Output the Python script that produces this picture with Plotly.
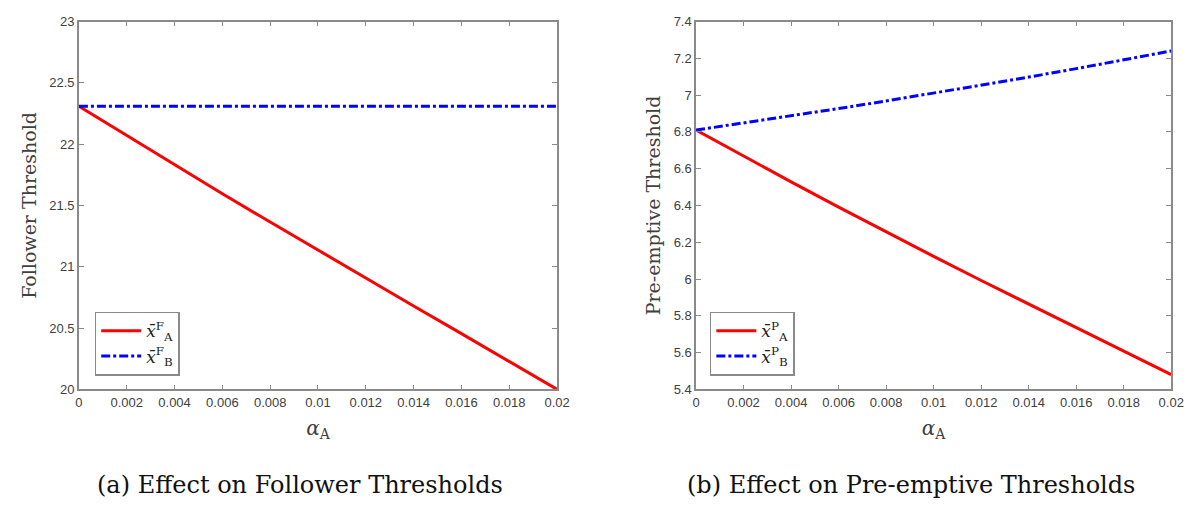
import plotly.graph_objects as go

alpha = [0, 0.002, 0.004, 0.006, 0.008, 0.01, 0.012, 0.014, 0.016, 0.018, 0.02]
follower_A = [22.31, 22.07, 21.83, 21.595, 21.365, 21.135, 20.905, 20.68, 20.455, 20.23, 20.00]
follower_B = [22.31, 22.31, 22.31, 22.31, 22.31, 22.31, 22.31, 22.31, 22.31, 22.31, 22.31]
preempt_A = [6.81, 6.668, 6.528, 6.391, 6.256, 6.123, 5.992, 5.863, 5.735, 5.607, 5.48]
preempt_B = [6.81, 6.848, 6.887, 6.927, 6.968, 7.010, 7.053, 7.098, 7.144, 7.191, 7.24]

xticks = [0, 0.002, 0.004, 0.006, 0.008, 0.01, 0.012, 0.014, 0.016, 0.018, 0.02]
xticklabels = ["0", "0.002", "0.004", "0.006", "0.008", "0.01", "0.012", "0.014", "0.016", "0.018", "0.02"]
yticks_left = [20, 20.5, 21, 21.5, 22, 22.5, 23]
yticklabels_left = ["20", "20.5", "21", "21.5", "22", "22.5", "23"]
yticks_right = [5.4, 5.6, 5.8, 6, 6.2, 6.4, 6.6, 6.8, 7, 7.2, 7.4]
yticklabels_right = ["5.4", "5.6", "5.8", "6", "6.2", "6.4", "6.6", "6.8", "7", "7.2", "7.4"]

RED = "#ff0000"
BLUE = "#0000ff"
SERIF = "DejaVu Serif, Liberation Serif, serif"
SANS = "Liberation Sans, Arial, sans-serif"
AXC = "#8a8a8a"

fig = go.Figure()
fig.add_trace(go.Scatter(x=alpha, y=follower_A, mode="lines", line=dict(color=RED, width=3),
                         name="<i>x̄</i><sup>F</sup><sub>A</sub>", legend="legend", xaxis="x", yaxis="y"))
fig.add_trace(go.Scatter(x=alpha, y=follower_B, mode="lines", line=dict(color=BLUE, width=3, dash="dashdot"),
                         name="<i>x̄</i><sup>F</sup><sub>B</sub>", legend="legend", xaxis="x", yaxis="y"))
fig.add_trace(go.Scatter(x=alpha, y=preempt_A, mode="lines", line=dict(color=RED, width=3),
                         name="<i>x̄</i><sup>P</sup><sub>A</sub>", legend="legend2", xaxis="x2", yaxis="y2"))
fig.add_trace(go.Scatter(x=alpha, y=preempt_B, mode="lines", line=dict(color=BLUE, width=3, dash="dashdot"),
                         name="<i>x̄</i><sup>P</sup><sub>B</sub>", legend="legend2", xaxis="x2", yaxis="y2"))

W, H = 1201, 508
def px(x): return x / W
def py(y): return 1 - y / H

common_x = dict(range=[0, 0.02], tickvals=xticks, ticktext=xticklabels, ticks="inside", ticklen=5,
                tickcolor=AXC, showline=True, linecolor=AXC, linewidth=1.5, mirror="ticks",
                showgrid=False, zeroline=False, tickfont=dict(family=SANS, size=13, color="#404040"),
                title=dict(text="<i>α</i><sub>A</sub>", font=dict(family=SERIF, size=20, color="#404040"), standoff=12))
common_y = dict(ticks="inside", ticklen=5, tickcolor=AXC, showline=True, linecolor=AXC, linewidth=1.5,
                mirror="ticks", showgrid=False, zeroline=False,
                tickfont=dict(family=SANS, size=13, color="#404040"))

legend_common = dict(bgcolor="white", bordercolor=AXC, borderwidth=1.5,
                     font=dict(family=SERIF, size=17, color="#222222"),
                     xanchor="left", yanchor="bottom", tracegroupgap=0, itemwidth=40)

fig.update_layout(
    width=W, height=H, margin=dict(l=0, r=0, t=0, b=0),
    plot_bgcolor="white", paper_bgcolor="white",
    xaxis=dict(domain=[px(76), px(561)], anchor="y", **common_x),
    yaxis=dict(domain=[py(394), py(15)], anchor="x", range=[20, 23], tickvals=yticks_left,
               ticktext=yticklabels_left,
               title=dict(text="Follower Threshold", font=dict(family=SERIF, size=19, color="#404040"), standoff=8),
               **common_y),
    xaxis2=dict(domain=[px(702), px(1184)], anchor="y2", **common_x),
    yaxis2=dict(domain=[py(394), py(15)], anchor="x2", range=[5.4, 7.4], tickvals=yticks_right,
                ticktext=yticklabels_right,
                title=dict(text="Pre-emptive Threshold", font=dict(family=SERIF, size=19, color="#404040"), standoff=8),
                **common_y),
    legend=dict(x=px(92), y=py(380), **legend_common),
    legend2=dict(x=px(716), y=py(380), **legend_common),
    showlegend=True,
)

fig.add_annotation(text="(a) Effect on Follower Thresholds", x=px(300), y=py(493), xref="paper", yref="paper",
                   showarrow=False, xanchor="center", yanchor="middle",
                   font=dict(family=SERIF, size=24, color="#111111"))
fig.add_annotation(text="(b) Effect on Pre-emptive Thresholds", x=px(920), y=py(493), xref="paper", yref="paper",
                   showarrow=False, xanchor="center", yanchor="middle",
                   font=dict(family=SERIF, size=24, color="#111111"))

fig.write_html("out.html")
